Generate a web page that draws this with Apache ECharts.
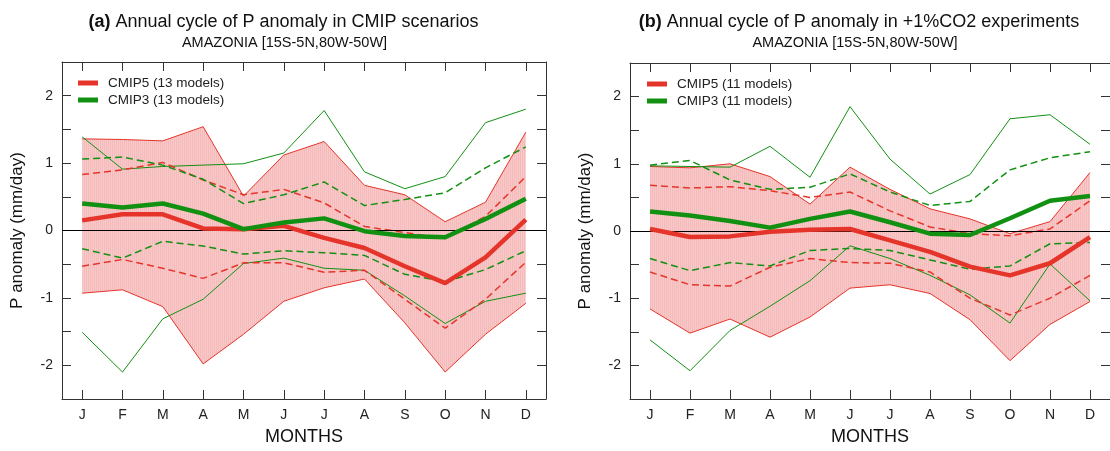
<!DOCTYPE html>
<html>
<head>
<meta charset="utf-8">
<script src="https://cdn.jsdelivr.net/npm/echarts@6/dist/echarts.min.js"></script>
<style>
html,body{margin:0;padding:0;background:#fff;}
#chart{width:1110px;height:451px;}
</style>
</head>
<body>
<div id="chart"></div>
<script>
// ---------- data ----------
const months = ['J','F','M','A','M','J','J','A','S','O','N','D'];
const yTicks = [-2, -1, 0, 1, 2];

// Panel (a): CMIP scenarios
const a_cmip5_mean = [0.15,0.24,0.24,0.03,0.02,0.07,-0.11,-0.26,-0.53,-0.78,-0.40,0.16];
const a_cmip5_max  = [1.36,1.35,1.33,1.54,0.51,1.12,1.32,0.67,0.53,0.13,0.42,1.46];
const a_cmip5_min  = [-0.93,-0.88,-1.13,-1.98,-1.54,-1.05,-0.85,-0.72,-1.37,-2.10,-1.54,-1.08];
const a_cmip5_hi   = [0.83,0.90,1.01,0.75,0.53,0.61,0.41,0.06,-0.03,-0.12,0.21,0.80];
const a_cmip5_lo   = [-0.53,-0.43,-0.56,-0.71,-0.48,-0.48,-0.62,-0.59,-1.02,-1.45,-1.02,-0.47];
const a_cmip3_mean = [0.40,0.34,0.40,0.25,0.02,0.12,0.18,-0.01,-0.08,-0.10,0.17,0.47];
const a_cmip3_max  = [1.39,0.91,0.95,0.97,0.99,1.15,1.78,0.87,0.62,0.80,1.60,1.80];
const a_cmip3_min  = [-1.51,-2.10,-1.31,-1.02,-0.49,-0.41,-0.56,-0.59,-0.97,-1.38,-1.05,-0.93];
const a_cmip3_hi   = [1.06,1.09,0.97,0.76,0.40,0.53,0.72,0.37,0.46,0.56,0.93,1.24];
const a_cmip3_lo   = [-0.27,-0.41,-0.16,-0.23,-0.35,-0.30,-0.33,-0.37,-0.65,-0.76,-0.58,-0.30];

// Panel (b): +1%CO2 experiments
const b_cmip5_mean = [0.03,-0.09,-0.08,-0.01,0.02,0.03,-0.14,-0.31,-0.53,-0.66,-0.48,-0.09];
const b_cmip5_max  = [0.96,0.94,1.00,0.81,0.40,0.95,0.62,0.33,0.18,-0.04,0.14,0.87];
const b_cmip5_min  = [-1.16,-1.52,-1.31,-1.58,-1.28,-0.85,-0.80,-0.93,-1.32,-1.93,-1.39,-1.05];
const b_cmip5_hi   = [0.68,0.64,0.66,0.60,0.50,0.58,0.30,0.06,-0.04,-0.07,0.03,0.45];
const b_cmip5_lo   = [-0.61,-0.80,-0.82,-0.54,-0.41,-0.47,-0.48,-0.61,-1.00,-1.25,-1.00,-0.66];
const b_cmip3_mean = [0.29,0.23,0.15,0.05,0.18,0.29,0.13,-0.04,-0.06,0.19,0.45,0.52];
const b_cmip3_max  = [0.97,0.96,0.95,1.26,0.80,1.85,1.07,0.55,0.84,1.67,1.73,1.29];
const b_cmip3_min  = [-1.62,-2.08,-1.48,-1.12,-0.74,-0.22,-0.41,-0.66,-0.95,-1.37,-0.49,-1.04];
const b_cmip3_hi   = [0.98,1.05,0.76,0.62,0.65,0.85,0.58,0.38,0.44,0.91,1.09,1.18];
const b_cmip3_lo   = [-0.41,-0.59,-0.47,-0.52,-0.29,-0.26,-0.29,-0.43,-0.57,-0.52,-0.19,-0.17];

const titleA = 'Annual cycle of P anomaly in CMIP scenarios';
const titleB = 'Annual cycle of P anomaly in +1%CO2 experiments';
const subTitle = 'AMAZONIA [15S-5N,80W-50W]';
const legA = ['CMIP5 (13 models)', 'CMIP3 (13 models)'];
const legB = ['CMIP5 (11 models)', 'CMIP3 (11 models)'];

// ---------- style ----------
const FONT = '"Liberation Sans", Arial, Helvetica, sans-serif';
const RED = '#e5352b';
const GREEN = '#129012';

function hatch() {
  const c = document.createElement('canvas');
  c.width = 2; c.height = 4;
  const g = c.getContext('2d');
  g.fillStyle = '#f9c9c9'; g.fillRect(0,0,2,4);
  g.fillStyle = '#f5baba'; g.fillRect(0,0,1,4);
  return c;
}
const FILL = {image: hatch(), repeat: 'repeat'};

function diff(hi, lo) { return hi.map((v, i) => +(v - lo[i]).toFixed(3)); }

function panelSeries(p, d) {
  const xi = p * 2, yi = p * 2;
  const base = {type: 'line', xAxisIndex: xi, yAxisIndex: yi, symbol: 'none', silent: true, animation: false};
  return [
    Object.assign({}, base, {name: 'band_lo_' + p, data: d.c5min, stack: 'band' + p, stackStrategy: 'all',
      lineStyle: {opacity: 0}, z: 1}),
    Object.assign({}, base, {name: 'band_' + p, data: diff(d.c5max, d.c5min), stack: 'band' + p, stackStrategy: 'all',
      lineStyle: {opacity: 0}, areaStyle: {color: FILL, opacity: 1}, z: 1,
      markLine: {silent: true, symbol: ['none','none'], label: {show: false},
        lineStyle: {color: '#000', width: 1, type: 'solid'}, data: [{yAxis: 0}], animation: false}}),
    Object.assign({}, base, {name: 'c5max' + p, data: d.c5max, lineStyle: {color: RED, width: 1}, z: 3}),
    Object.assign({}, base, {name: 'c5min' + p, data: d.c5min, lineStyle: {color: RED, width: 1}, z: 3}),
    Object.assign({}, base, {name: 'c3max' + p, data: d.c3max, lineStyle: {color: GREEN, width: 1}, z: 3}),
    Object.assign({}, base, {name: 'c3min' + p, data: d.c3min, lineStyle: {color: GREEN, width: 1}, z: 3}),
    Object.assign({}, base, {name: 'c5hi' + p, data: d.c5hi, lineStyle: {color: RED, width: 1.5, type: [7,4]}, z: 4}),
    Object.assign({}, base, {name: 'c5lo' + p, data: d.c5lo, lineStyle: {color: RED, width: 1.5, type: [7,4]}, z: 4}),
    Object.assign({}, base, {name: 'c3hi' + p, data: d.c3hi, lineStyle: {color: GREEN, width: 1.5, type: [7,4]}, z: 4}),
    Object.assign({}, base, {name: 'c3lo' + p, data: d.c3lo, lineStyle: {color: GREEN, width: 1.5, type: [7,4]}, z: 4}),
    Object.assign({}, base, {name: d.leg[0], data: d.c5mean, color: RED, lineStyle: {color: RED, width: 4.5}, z: 5}),
    Object.assign({}, base, {name: d.leg[1], data: d.c3mean, color: GREEN, lineStyle: {color: GREEN, width: 4.5}, z: 6})
  ];
}

function xAxes(g) {
  const common = {gridIndex: g, type: 'category', data: months, boundaryGap: true,
    axisLine: {show: true, onZero: false, lineStyle: {color: '#333', width: 1}},
    axisTick: {show: true, inside: true, alignWithLabel: true, length: 9, lineStyle: {color: '#333'}},
    splitLine: {show: false}};
  return [
    Object.assign({}, common, {position: 'bottom',
      axisLabel: {fontSize: 14, color: '#222', fontFamily: FONT, margin: 9},
      name: 'MONTHS', nameLocation: 'middle', nameGap: 29,
      nameTextStyle: {fontSize: 18, color: '#111', fontFamily: FONT}}),
    Object.assign({}, common, {position: 'top', axisLabel: {show: false}})
  ];
}
function yAxes(g) {
  const common = {gridIndex: g, type: 'value', min: -2.5, max: 2.5, interval: 0.5,
    axisLine: {show: true, onZero: false, lineStyle: {color: '#333', width: 1}},
    axisTick: {show: true, inside: true, length: 9, lineStyle: {color: '#333'}},
    splitLine: {show: false}};
  return [
    Object.assign({}, common, {position: 'left',
      axisLabel: {fontSize: 14, color: '#222', fontFamily: FONT, margin: 9,
        formatter: v => (yTicks.indexOf(Math.round(v * 100) / 100) >= 0 ? String(Math.round(v)) : '')},
      name: 'P anomaly (mm/day)', nameLocation: 'middle', nameGap: 36,
      nameTextStyle: {fontSize: 17, color: '#111', fontFamily: FONT}}),
    Object.assign({}, common, {position: 'right', axisLabel: {show: false}})
  ];
}

function legend(names, left, top) {
  return {data: names, orient: 'vertical', left: left, top: top, padding: 0,
    icon: 'rect', itemWidth: 20, itemHeight: 5, itemGap: 3,
    selectedMode: false,
    textStyle: {fontSize: 13.5, color: '#222', fontFamily: FONT, lineHeight: 14, padding: [0,0,0,5]}};
}

function titleText(x, y, tag, txt) {
  return {type: 'text', x: x, y: y, silent: true,
    style: {text: '{b|' + tag + '} ' + txt, fill: '#111', fontSize: 18, fontFamily: FONT,
      align: 'center', verticalAlign: 'middle',
      rich: {b: {fontWeight: 'bold', fontSize: 18, fontFamily: FONT, fill: '#111'}}}};
}
function subText(x, y, txt) {
  return {type: 'text', x: x, y: y, silent: true,
    style: {text: txt, fill: '#111', fontSize: 14.5, fontFamily: FONT, align: 'center', verticalAlign: 'middle'}};
}

const dA = {c5mean: a_cmip5_mean, c5max: a_cmip5_max, c5min: a_cmip5_min, c5hi: a_cmip5_hi, c5lo: a_cmip5_lo,
            c3mean: a_cmip3_mean, c3max: a_cmip3_max, c3min: a_cmip3_min, c3hi: a_cmip3_hi, c3lo: a_cmip3_lo, leg: legA};
const dB = {c5mean: b_cmip5_mean, c5max: b_cmip5_max, c5min: b_cmip5_min, c5hi: b_cmip5_hi, c5lo: b_cmip5_lo,
            c3mean: b_cmip3_mean, c3max: b_cmip3_max, c3min: b_cmip3_min, c3hi: b_cmip3_hi, c3lo: b_cmip3_lo, leg: legB};

const chart = echarts.init(document.getElementById('chart'), null, {renderer: 'canvas'});
chart.setOption({
  animation: false,
  backgroundColor: '#fff',
  grid: [
    {left: 62, top: 62, width: 484, height: 338},
    {left: 630, top: 63, width: 484, height: 338}
  ],
  xAxis: xAxes(0).concat(xAxes(1)),
  yAxis: yAxes(0).concat(yAxes(1)),
  legend: [legend(legA, 78, 76), legend(legB, 647, 77)],
  graphic: [
    titleText(283.5, 22, '(a)', titleA),
    subText(284.5, 43, subTitle),
    titleText(859, 22, '(b)', titleB),
    subText(855, 43, subTitle)
  ],
  series: panelSeries(0, dA).concat(panelSeries(1, dB))
});
</script>
</body>
</html>
